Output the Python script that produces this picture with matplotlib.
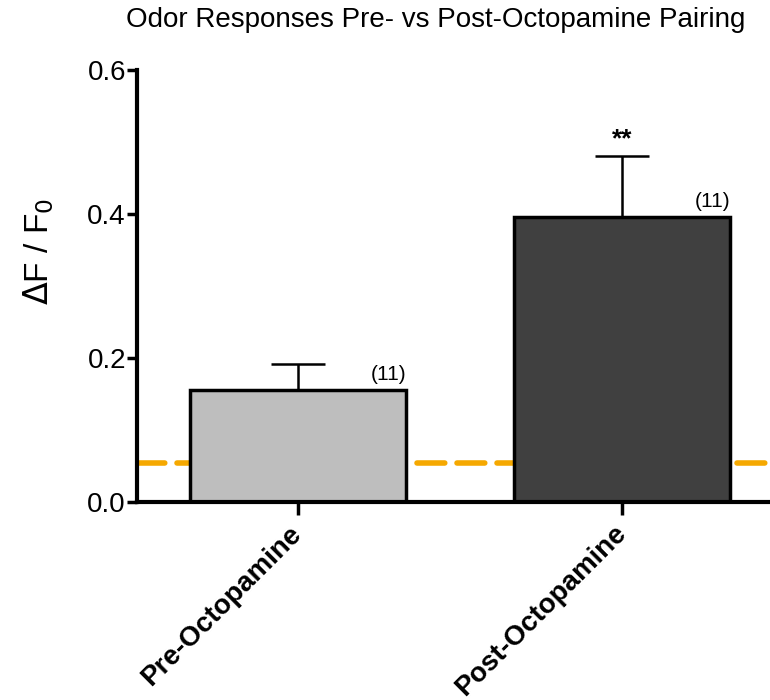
import matplotlib
matplotlib.use("Agg")
import matplotlib.pyplot as plt

plt.rcParams['font.family'] = ['Liberation Sans', 'DejaVu Sans']

categories = ["Pre-Octopamine", "Post-Octopamine"]
means = [0.156, 0.396]
sem = [0.035, 0.084]
n_labels = ["(11)", "(11)"]
sig_labels = ["", "**"]
baseline = 0.054
bar_colors = ["#BEBEBE", "#404040"]

fig = plt.figure(figsize=(7.7, 7.0), dpi=100)
ax = fig.add_axes([137 / 770, 198 / 700, 1 - 137 / 770, 432 / 700])

x = list(range(len(categories)))
ax.axhline(baseline, color="#F5A800", lw=4, ls=(0, (5, 2.2)), dash_capstyle="round", zorder=1)
ax.bar(x, means, width=0.667, color=bar_colors, edgecolor="black", linewidth=2.5, zorder=2)
ax.errorbar(x, means, yerr=[[0] * len(means), sem], fmt="none", ecolor="black",
            elinewidth=1.8, capsize=19.5, capthick=1.8, zorder=3)

for xi, m, s, nl, sl in zip(x, means, sem, n_labels, sig_labels):
    ax.text(xi + 0.335, m + 0.008, nl, ha="right", va="bottom", fontsize=15)
    if sl:
        ax.text(xi, m + s + 0.007, sl, ha="center", va="bottom", fontsize=19, fontweight="bold")

ax.set_xlim(-0.497, 1.457)
ax.set_ylim(0, 0.6)
ax.set_yticks([0.0, 0.2, 0.4, 0.6])
ax.set_yticklabels(["0.0", "0.2", "0.4", "0.6"], fontsize=20)
ax.set_xticks(x)
ax.set_xticklabels(categories, rotation=45, ha="right", va="center", rotation_mode="anchor",
                   fontsize=20, fontweight="bold")
ax.tick_params(axis="y", length=7, width=2.5, pad=1)
ax.tick_params(axis="x", length=9, width=2.5, pad=11)

for side in ("top", "right"):
    ax.spines[side].set_visible(False)
for side in ("left", "bottom"):
    ax.spines[side].set_linewidth(3)

ax.set_ylabel(r"$\Delta$F / F$_0$", fontsize=24)
ax.yaxis.set_label_coords(-0.128, 0.579)
fig.text(436 / 770, 1 - 20 / 700, "Odor Responses Pre- vs Post-Octopamine Pairing",
         ha="center", va="center", fontsize=20)

fig.savefig("out.png", dpi=100)
